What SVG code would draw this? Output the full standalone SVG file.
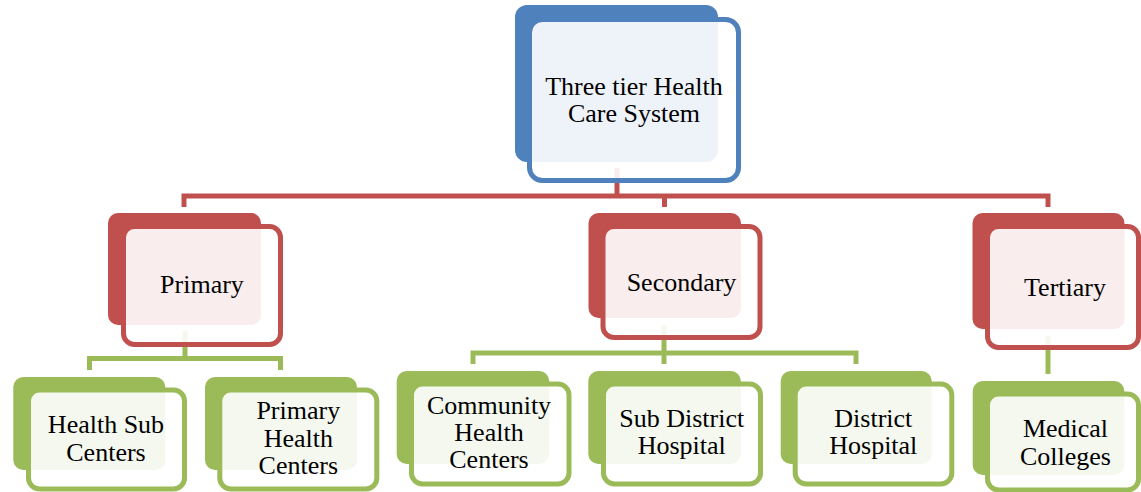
<svg xmlns="http://www.w3.org/2000/svg" width="1141" height="492" viewBox="0 0 1141 492">
<style>
text{font-family:'Liberation Serif','Times New Roman','DejaVu Serif',serif;font-size:26px;fill:#000;text-anchor:middle}
.fr{fill:#fff;fill-opacity:0.9;stroke-width:5}
.cn{fill:none;stroke-width:5;stroke-linejoin:miter}
.b .bk{fill:#4F81BD}.b .fr{stroke:#4F81BD}
.r .bk{fill:#C0504D}.r .fr{stroke:#C0504D}
.g .bk{fill:#9BBB59}.g .fr{stroke:#9BBB59}
</style>
<rect width="1141" height="492" fill="#fff"/>
<g id="connectors">
<path class="cn" stroke="#C0504D" d="M617,168V196"/>
<path class="cn" stroke="#C0504D" d="M184,207V196H1048V207M664.5,196V207"/>
<path class="cn" stroke="#9BBB59" d="M185,331V358.5"/>
<path class="cn" stroke="#9BBB59" d="M89.5,370V358.5H280.5V370"/>
<path class="cn" stroke="#9BBB59" d="M664,325V364M473,364V353H856V364"/>
<path class="cn" stroke="#9BBB59" d="M1048,336V374"/>
</g>
<g id="root" class="b">
<rect class="bk" x="515" y="5" width="203" height="157" rx="12"/>
<rect class="fr" x="529.5" y="19.5" width="209" height="161" rx="13"/>
<text x="634" y="94.5">Three tier Health</text>
<text x="634" y="122">Care System</text>
</g>
<g id="primary" class="r">
<rect class="bk" x="108" y="213" width="153" height="112" rx="10"/>
<rect class="fr" x="123.5" y="226.5" width="157" height="118" rx="11"/>
<text x="202" y="293">Primary</text>
</g>
<g id="secondary" class="r">
<rect class="bk" x="588.5" y="213" width="152.5" height="105" rx="10"/>
<rect class="fr" x="603" y="226.5" width="157" height="111" rx="11"/>
<text x="681.5" y="290.5">Secondary</text>
</g>
<g id="tertiary" class="r">
<rect class="bk" x="972.5" y="213" width="152" height="116" rx="10"/>
<rect class="fr" x="987.5" y="226.5" width="151" height="121" rx="11"/>
<text x="1065" y="296">Tertiary</text>
</g>
<g id="health-sub-centers" class="g">
<rect class="bk" x="13.3" y="377" width="152" height="93" rx="10"/>
<rect class="fr" x="28.5" y="390" width="156" height="99" rx="11"/>
<text x="106" y="433.3">Health Sub</text>
<text x="106" y="460.7">Centers</text>
</g>
<g id="primary-health-centers" class="g">
<rect class="bk" x="205" y="377" width="152" height="93" rx="10"/>
<rect class="fr" x="219.8" y="390" width="157" height="99" rx="11"/>
<text x="298.3" y="419">Primary</text>
<text x="298.3" y="446.7">Health</text>
<text x="298.3" y="474">Centers</text>
</g>
<g id="community-health-centers" class="g">
<rect class="bk" x="396.7" y="371" width="152.5" height="93" rx="10"/>
<rect class="fr" x="411.5" y="384" width="157.5" height="100" rx="11"/>
<text x="489" y="414">Community</text>
<text x="489" y="440.7">Health</text>
<text x="489" y="468.3">Centers</text>
</g>
<g id="sub-district-hospital" class="g">
<rect class="bk" x="588.3" y="371" width="152.5" height="93" rx="10"/>
<rect class="fr" x="603.5" y="384" width="157" height="100" rx="11"/>
<text x="681.7" y="427">Sub District</text>
<text x="681.7" y="454">Hospital</text>
</g>
<g id="district-hospital" class="g">
<rect class="bk" x="780.7" y="371" width="151" height="93" rx="10"/>
<rect class="fr" x="795.2" y="384" width="156.6" height="100" rx="11"/>
<text x="873.3" y="426.8">District</text>
<text x="873.3" y="453.8">Hospital</text>
</g>
<g id="medical-colleges" class="g">
<rect class="bk" x="972.7" y="381" width="151.6" height="94" rx="10"/>
<rect class="fr" x="987.5" y="394" width="151" height="96" rx="11"/>
<text x="1065.5" y="437.3">Medical</text>
<text x="1065.5" y="465">Colleges</text>
</g>
</svg>
